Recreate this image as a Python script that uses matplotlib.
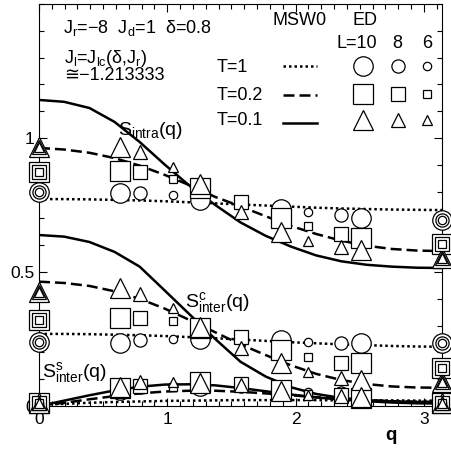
import numpy as np
import matplotlib
matplotlib.use("Agg")
import matplotlib.pyplot as plt
from matplotlib.ticker import MultipleLocator

plt.rcParams['font.family'] = ['Liberation Sans', 'DejaVu Sans']
plt.rcParams['mathtext.fontset'] = 'custom'
plt.rcParams['mathtext.rm'] = 'Liberation Sans'
plt.rcParams['mathtext.it'] = 'Liberation Sans:italic'
plt.rcParams['mathtext.bf'] = 'Liberation Sans:bold'

# ---------------- data ----------------
q_curve = [0.0, 0.196, 0.393, 0.589, 0.785, 0.982, 1.178, 1.374, 1.571,
           1.767, 1.963, 2.160, 2.356, 2.553, 2.749, 2.945, 3.1416]

intra_T01 = [1.142, 1.135, 1.112, 1.06, 0.985, 0.90, 0.82, 0.75, 0.685,
             0.635, 0.595, 0.562, 0.54, 0.527, 0.52, 0.516, 0.515]
intra_T02 = [0.963, 0.957, 0.945, 0.925, 0.897, 0.862, 0.823, 0.78, 0.745,
             0.708, 0.672, 0.642, 0.617, 0.598, 0.586, 0.58, 0.578]
intra_T1 = [0.772, 0.772, 0.771, 0.769, 0.767, 0.764, 0.76, 0.756, 0.752,
            0.748, 0.744, 0.740, 0.737, 0.735, 0.733, 0.732, 0.731]

interc_T01 = [0.638, 0.632, 0.612, 0.575, 0.52, 0.43, 0.34, 0.25, 0.165,
              0.11, 0.07, 0.045, 0.03, 0.022, 0.017, 0.015, 0.014]
interc_T02 = [0.464, 0.459, 0.448, 0.428, 0.40, 0.363, 0.32, 0.275, 0.23,
              0.19, 0.152, 0.12, 0.097, 0.082, 0.073, 0.069, 0.068]
interc_T1 = [0.269, 0.269, 0.268, 0.266, 0.264, 0.261, 0.257, 0.253, 0.248,
             0.243, 0.238, 0.234, 0.23, 0.227, 0.224, 0.222, 0.221]

inters_T01 = [0.0, 0.02, 0.04, 0.058, 0.072, 0.08, 0.081, 0.077, 0.067,
              0.055, 0.043, 0.032, 0.024, 0.018, 0.013, 0.01, 0.009]
inters_T02 = [0.0, 0.012, 0.025, 0.037, 0.047, 0.054, 0.057, 0.057, 0.053,
              0.047, 0.04, 0.033, 0.027, 0.022, 0.018, 0.016, 0.015]
inters_T1 = [0.005, 0.008, 0.012, 0.015, 0.017, 0.019, 0.02, 0.021, 0.022,
             0.022, 0.022, 0.022, 0.021, 0.021, 0.021, 0.02, 0.02]

# ED momenta
q_L10 = [0.0, 0.628, 1.257, 1.885, 2.513, 3.1416]
q_L8 = [0.0, 0.785, 1.571, 2.356, 3.1416]
q_L6 = [0.0, 1.047, 2.094, 3.1416]

# ED S_intra  (T=1 circle, T=0.2 square, T=0.1 triangle)
intra_L10_T1 = [0.80, 0.795, 0.77, 0.735, 0.70, 0.694]
intra_L10_T02 = [0.873, 0.877, 0.815, 0.70, 0.626, 0.603]
intra_L10_T01 = [0.965, 0.966, 0.83, 0.65, 0.582, 0.551]
intra_L8_T1 = [0.80, 0.795, 0.76, 0.713, 0.694]
intra_L8_T02 = [0.873, 0.873, 0.762, 0.64, 0.603]
intra_L8_T01 = [0.965, 0.948, 0.725, 0.592, 0.551]
intra_L6_T1 = [0.80, 0.787, 0.725, 0.694]
intra_L6_T02 = [0.873, 0.847, 0.672, 0.603]
intra_L6_T01 = [0.965, 0.89, 0.617, 0.551]

# ED S^c_inter
interc_L10_T1 = [0.24, 0.234, 0.25, 0.246, 0.234, 0.234]
interc_L10_T02 = [0.321, 0.33, 0.29, 0.209, 0.159, 0.14]
interc_L10_T01 = [0.427, 0.439, 0.295, 0.16, 0.097, 0.09]
interc_L8_T1 = [0.24, 0.246, 0.252, 0.234, 0.234]
interc_L8_T02 = [0.321, 0.33, 0.256, 0.162, 0.14]
interc_L8_T01 = [0.427, 0.418, 0.215, 0.103, 0.09]
interc_L6_T1 = [0.24, 0.25, 0.24, 0.234]
interc_L6_T02 = [0.321, 0.317, 0.184, 0.14]
interc_L6_T01 = [0.427, 0.364, 0.128, 0.09]

# ED S^s_inter
inters_L10_T1 = [0.01, 0.058, 0.075, 0.055, 0.03, 0.012]
inters_L10_T02 = [0.01, 0.067, 0.09, 0.06, 0.03, 0.012]
inters_L10_T01 = [0.01, 0.072, 0.085, 0.057, 0.033, 0.012]
inters_L8_T1 = [0.01, 0.07, 0.075, 0.048, 0.012]
inters_L8_T02 = [0.01, 0.075, 0.082, 0.04, 0.012]
inters_L8_T01 = [0.01, 0.088, 0.078, 0.036, 0.012]
inters_L6_T1 = [0.01, 0.075, 0.052, 0.012]
inters_L6_T02 = [0.01, 0.072, 0.045, 0.012]
inters_L6_T01 = [0.01, 0.09, 0.042, 0.012]

x_ticks = [0, 1, 2, 3]
x_ticklabels = ["0", "1", "2", "3"]
y_ticks = [0, 0.5, 1]
y_ticklabels = ["0", "0.5", "1"]

# ---------------- figure ----------------
fig = plt.figure(figsize=(4.51, 4.51), dpi=100)
ax = fig.add_axes([39/451, 45/451, 403/451, 402/451])
ax.set_xlim(0, np.pi)
ax.set_ylim(0, 1.5)

LW = 1.8
styles = {
    'T1': dict(color='black', lw=LW, linestyle=(0, (1, 1.2))),
    'T02': dict(color='black', lw=LW, linestyle=(0, (4.4, 2.0))),
    'T01': dict(color='black', lw=LW, linestyle='-'),
}

for T1, T02, T01 in [(intra_T1, intra_T02, intra_T01),
                     (interc_T1, interc_T02, interc_T01),
                     (inters_T1, inters_T02, inters_T01)]:
    ax.plot(q_curve, T1, zorder=2, **styles['T1'])
    ax.plot(q_curve, T02, zorder=2, **styles['T02'])
    ax.plot(q_curve, T01, zorder=2, **styles['T01'])

sizes = {'L10': (14, 15, 15), 'L8': (9.5, 10.5, 10), 'L6': (6, 6, 6.5)}
mk_kw = dict(linestyle='none', markerfacecolor='white', markeredgecolor='black',
             markeredgewidth=0.9, clip_on=False)

groups = [
    ('L10', q_L10, [(intra_L10_T1, intra_L10_T02, intra_L10_T01),
                    (interc_L10_T1, interc_L10_T02, interc_L10_T01),
                    (inters_L10_T1, inters_L10_T02, inters_L10_T01)]),
    ('L8', q_L8, [(intra_L8_T1, intra_L8_T02, intra_L8_T01),
                  (interc_L8_T1, interc_L8_T02, interc_L8_T01),
                  (inters_L8_T1, inters_L8_T02, inters_L8_T01)]),
    ('L6', q_L6, [(intra_L6_T1, intra_L6_T02, intra_L6_T01),
                  (interc_L6_T1, interc_L6_T02, interc_L6_T01),
                  (inters_L6_T1, inters_L6_T02, inters_L6_T01)]),
]
z = 4
for L, qs, sets in groups:
    sc, ss, st = sizes[L]
    for c_vals, s_vals, t_vals in sets:
        ax.plot(qs, c_vals, marker='o', markersize=sc, zorder=z, **mk_kw)
        ax.plot(qs, s_vals, marker='s', markersize=ss, zorder=z + 0.1, **mk_kw)
        ax.plot(qs, t_vals, marker='^', markersize=st, zorder=z + 0.2, **mk_kw)
    z += 1

# ticks
ax.set_xticks(x_ticks)
ax.set_xticklabels(x_ticklabels)
ax.set_yticks(y_ticks)
ax.set_yticklabels(y_ticklabels)
ax.xaxis.set_minor_locator(MultipleLocator(0.1))
ax.yaxis.set_minor_locator(MultipleLocator(0.1))
ax.tick_params(which='both', direction='in', top=True, right=True, width=0.8)
ax.tick_params(which='major', length=6, labelsize=12.5)
ax.tick_params(which='minor', length=3.5)
ax.tick_params(axis='x', pad=4)
ax.tick_params(axis='y', pad=3)
for sp in ax.spines.values():
    sp.set_linewidth(0.8)

ax.text(0.859, -0.085, "q", transform=ax.transAxes, fontsize=13.5,
        fontweight='bold', ha='left', va='baseline')

# annotations
fs = 13
def tx(px, py, s, **kw):
    ax.text((px - 39) / 403, (406 - py) / 402, s, transform=ax.transAxes,
            fontsize=kw.pop('fontsize', fs), va='baseline', **kw)

tx(63, 33, r"J$_{\rm r}$=−8  J$_{\rm d}$=1  δ=0.8")
tx(64, 63, r"J$_{\rm l}$=J$_{\rm lc}$(δ,J$_{\rm r}$)")
tx(64, 80, "≅−1.213333")
tx(272, 25, "MSW0")
tx(352, 25, "ED")
tx(336, 48, "L=10")
tx(397, 48, "8", ha='center')
tx(427, 48, "6", ha='center')
tx(217, 72, "T=1")
tx(217, 100, "T=0.2")
tx(217, 125, "T=0.1")
tx(118, 135, r"S$_{\rm intra}$(q)", fontsize=14)
tx(185, 307, r"S$^{\rm c}_{\rm inter}$(q)", fontsize=14)
tx(42, 377, r"S$^{\rm s}_{\rm inter}$(q)", fontsize=14)

# legend samples (axes-fraction coordinates)
def fx(px):
    return (px - 39) / 403
def fy(py):
    return (406 - py) / 402

leg_lines = [('T1', 66), ('T02', 95), ('T01', 123)]
for key, py in leg_lines:
    ax.plot([fx(283), fx(317)], [fy(py), fy(py)], transform=ax.transAxes,
            clip_on=False, **styles[key])
leg_x = {'L10': 363, 'L8': 398, 'L6': 427}
for L, px in leg_x.items():
    sc, ss, st = sizes[L]
    ax.plot([fx(px)], [fy(66)], marker='o', markersize=sc, transform=ax.transAxes, **mk_kw)
    ax.plot([fx(px)], [fy(94)], marker='s', markersize=ss, transform=ax.transAxes, **mk_kw)
    ax.plot([fx(px)], [fy(120)], marker='^', markersize=st, transform=ax.transAxes, **mk_kw)

fig.savefig("out.png", dpi=100)
